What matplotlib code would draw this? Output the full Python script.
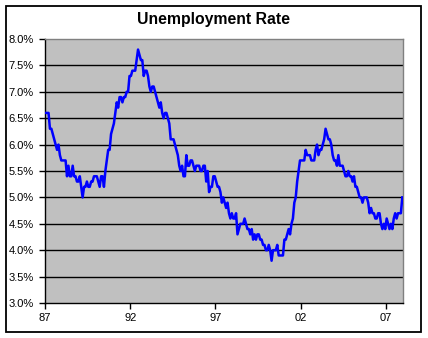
import matplotlib.pyplot as plt
from matplotlib.patches import Rectangle
from matplotlib.ticker import FuncFormatter

# monthly unemployment rate, Jan 1987 - Dec 2007 (%)
rate_1987 = [6.6, 6.6, 6.6, 6.3, 6.3, 6.2, 6.1, 6.0, 5.9, 6.0, 5.8, 5.7]
rate_1988 = [5.7, 5.7, 5.7, 5.4, 5.6, 5.4, 5.4, 5.6, 5.4, 5.4, 5.3, 5.3]
rate_1989 = [5.4, 5.2, 5.0, 5.2, 5.2, 5.3, 5.2, 5.2, 5.3, 5.3, 5.4, 5.4]
rate_1990 = [5.4, 5.3, 5.2, 5.4, 5.4, 5.2, 5.5, 5.7, 5.9, 5.9, 6.2, 6.3]
rate_1991 = [6.4, 6.6, 6.8, 6.7, 6.9, 6.9, 6.8, 6.9, 6.9, 7.0, 7.0, 7.3]
rate_1992 = [7.3, 7.4, 7.4, 7.4, 7.6, 7.8, 7.7, 7.6, 7.6, 7.3, 7.4, 7.4]
rate_1993 = [7.3, 7.1, 7.0, 7.1, 7.1, 7.0, 6.9, 6.8, 6.7, 6.8, 6.6, 6.5]
rate_1994 = [6.6, 6.6, 6.5, 6.4, 6.1, 6.1, 6.1, 6.0, 5.9, 5.8, 5.6, 5.5]
rate_1995 = [5.6, 5.4, 5.4, 5.8, 5.6, 5.6, 5.7, 5.7, 5.6, 5.5, 5.6, 5.6]
rate_1996 = [5.6, 5.5, 5.5, 5.6, 5.6, 5.3, 5.5, 5.1, 5.2, 5.2, 5.4, 5.4]
rate_1997 = [5.3, 5.2, 5.2, 5.1, 4.9, 5.0, 4.9, 4.8, 4.9, 4.7, 4.6, 4.7]
rate_1998 = [4.6, 4.6, 4.7, 4.3, 4.4, 4.5, 4.5, 4.5, 4.6, 4.5, 4.4, 4.4]
rate_1999 = [4.3, 4.4, 4.2, 4.3, 4.2, 4.3, 4.3, 4.2, 4.2, 4.1, 4.1, 4.0]
rate_2000 = [4.0, 4.1, 4.0, 3.8, 4.0, 4.0, 4.0, 4.1, 3.9, 3.9, 3.9, 3.9]
rate_2001 = [4.2, 4.2, 4.3, 4.4, 4.3, 4.5, 4.6, 4.9, 5.0, 5.3, 5.5, 5.7]
rate_2002 = [5.7, 5.7, 5.7, 5.9, 5.8, 5.8, 5.8, 5.7, 5.7, 5.7, 5.9, 6.0]
rate_2003 = [5.8, 5.9, 5.9, 6.0, 6.1, 6.3, 6.2, 6.1, 6.1, 6.0, 5.8, 5.7]
rate_2004 = [5.7, 5.6, 5.8, 5.6, 5.6, 5.6, 5.5, 5.4, 5.4, 5.5, 5.4, 5.4]
rate_2005 = [5.3, 5.4, 5.2, 5.2, 5.1, 5.0, 5.0, 4.9, 5.0, 5.0, 5.0, 4.9]
rate_2006 = [4.7, 4.8, 4.7, 4.7, 4.6, 4.6, 4.7, 4.7, 4.5, 4.4, 4.5, 4.4]
rate_2007 = [4.6, 4.5, 4.4, 4.5, 4.4, 4.6, 4.7, 4.6, 4.7, 4.7, 4.7, 5.0]

rates = (rate_1987 + rate_1988 + rate_1989 + rate_1990 + rate_1991 + rate_1992
         + rate_1993 + rate_1994 + rate_1995 + rate_1996 + rate_1997 + rate_1998
         + rate_1999 + rate_2000 + rate_2001 + rate_2002 + rate_2003 + rate_2004
         + rate_2005 + rate_2006 + rate_2007)

year_labels = ["87", "92", "97", "02", "07"]
y_ticks = [3.0, 3.5, 4.0, 4.5, 5.0, 5.5, 6.0, 6.5, 7.0, 7.5, 8.0]

plt.rcParams["font.family"] = ["Liberation Sans", "DejaVu Sans"]

fig = plt.figure(figsize=(4.28, 3.38), dpi=100)
ax = fig.add_axes([0.1051, 0.1036, 0.8365, 0.781])

# chart border
fig.patches.append(Rectangle((0.0129, 0.0178), 0.9707, 0.9659, transform=fig.transFigure,
                             fill=False, edgecolor="black", linewidth=1.3))

x = [i + 0.5 for i in range(len(rates))]
ax.set_facecolor("#C0C0C0")
for v in y_ticks[1:-1]:
    ax.axhline(v, color="black", linewidth=1.0, zorder=1)
ax.plot(x, rates, color="#0000FF", linewidth=1.8, zorder=3)

ax.set_xlim(0, len(rates))
ax.set_ylim(3.0, 8.0)
ax.set_yticks(y_ticks)
ax.yaxis.set_major_formatter(FuncFormatter(lambda v, p: f"{v:.1f}%"))
ax.set_xticks([i * 60 for i in range(len(year_labels))])
ax.set_xticklabels(year_labels)

ax.tick_params(axis="both", direction="out", length=4, width=1, color="black",
               labelsize=8)
ax.tick_params(axis="y", pad=4)
ax.tick_params(axis="x", pad=3)
for side in ["left", "bottom"]:
    ax.spines[side].set_color("black")
    ax.spines[side].set_linewidth(1.0)
for side in ["top", "right"]:
    ax.spines[side].set_color("#808080")
    ax.spines[side].set_linewidth(1.0)

fig.text(0.498, 0.941, "Unemployment Rate", ha="center", va="center",
         fontsize=11.3, fontweight="bold")

fig.savefig("out.png", dpi=100, facecolor="white")
